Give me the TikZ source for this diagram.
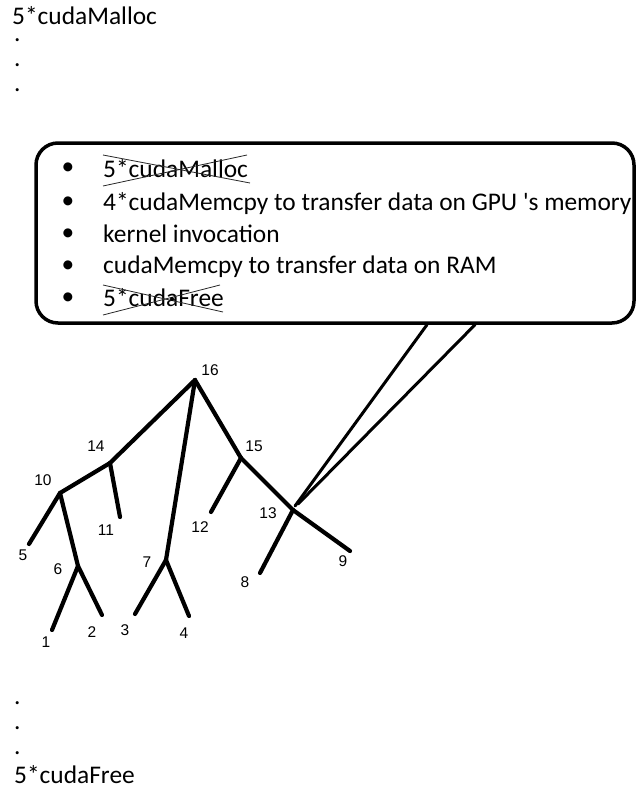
\documentclass[tikz,border=0pt]{standalone}
\usepackage{fontspec}
\setmainfont{Carlito}
\newfontfamily\labfont{Liberation Sans}
\tikzset{
  body/.style={font=\fontsize{25.4}{30}\selectfont, inner sep=0pt, anchor=base west, text depth=0pt},
  bul/.style={font=\fontsize{25.4}{30}\selectfont, inner sep=0pt, anchor=center},
  dotmark/.style={font=\fontsize{25.4}{30}\selectfont, inner sep=0pt, anchor=base west,
                  text height=3pt, text depth=0pt},
  numlab/.style={font=\labfont\fontsize{15.5}{15.5}\selectfont, inner sep=0pt, anchor=center},
  branch/.style={line width=4.2pt, line cap=round, line join=round},
  pointer/.style={line width=3pt, line cap=round},
  cross/.style={line width=0.8pt, black!85},
  callout/.style={draw, line width=3.5pt, rounded corners=22pt, inner sep=0pt,
                  minimum width=598pt, minimum height=180pt}
}
\begin{document}
\begin{tikzpicture}[x=1pt,y=-1pt]
\useasboundingbox (0,0) rectangle (636,789);

% opening allocation and elided lines
\node[body] (top) at (12,25) {5*cudaMalloc};
\node[dotmark] (d1) at (14,42) {.};
\node[dotmark] (d2) at (14,67) {.};
\node[dotmark] (d3) at (14,92) {.};

% callout box with the per-step list
\node[callout] (box) at (335,233) {};
\node[bul] (b1) at (68,169) {•};
\node[bul] (b2) at (68,203) {•};
\node[bul] (b3) at (68,235) {•};
\node[bul] (b4) at (68,267) {•};
\node[bul] (b5) at (68,299) {•};
\node[body] (t1) at (103,177) {5*cudaMalloc};
\node[body] (t2) at (103,210) {4*cudaMemcpy to transfer data on GPU \textquotesingle s memory};
\node[body] (t3) at (103,242) {kernel invocation};
\node[body] (t4) at (103,273) {cudaMemcpy to transfer data on RAM};
\node[body] (t5) at (103,306) {5*cudaFree};

% crossed-out entries
\coordinate (x1a) at (103,155); \coordinate (x1b) at (250,183);
\coordinate (x1c) at (103,186); \coordinate (x1d) at (247,155);
\draw[cross] (x1a) -- (x1b);
\draw[cross] (x1c) -- (x1d);
\coordinate (x5a) at (103,285); \coordinate (x5b) at (223,312);
\coordinate (x5c) at (103,315); \coordinate (x5d) at (220,285);
\draw[cross] (x5a) -- (x5b);
\draw[cross] (x5c) -- (x5d);
\fill (172,299) circle (2pt);

% tree junctions and leaves
\coordinate (v16) at (195,380);
\coordinate (v14) at (110,463);
\coordinate (v10) at (60,493);
\coordinate (v11) at (120,517);
\coordinate (v5)  at (29,544);
\coordinate (v6)  at (78,566);
\coordinate (v1)  at (52,630);
\coordinate (v2)  at (102,615);
\coordinate (v7)  at (166,560);
\coordinate (v3)  at (135,614);
\coordinate (v4)  at (189,616);
\coordinate (v15) at (241,458);
\coordinate (v12) at (211,512);
\coordinate (v13) at (293,510);
\coordinate (v9)  at (350,551);
\coordinate (v8)  at (260,573);

\draw[branch] (v16) -- (v14);
\draw[branch] (v16) -- (v7);
\draw[branch] (v16) -- (v15);
\draw[branch] (v14) -- (v10);
\draw[branch] (v14) -- (v11);
\draw[branch] (v10) -- (v5);
\draw[branch] (v10) -- (v6);
\draw[branch] (v6) -- (v1);
\draw[branch] (v6) -- (v2);
\draw[branch] (v7) -- (v3);
\draw[branch] (v7) -- (v4);
\draw[branch] (v15) -- (v12);
\draw[branch] (v15) -- (v13);
\draw[branch] (v13) -- (v9);
\draw[branch] (v13) -- (v8);

% pointer from node 13 up to the callout
\coordinate (p1) at ([xshift=92pt]box.south);
\coordinate (p2) at ([xshift=140pt]box.south);
\coordinate (q1) at (295,506);
\coordinate (q2) at (298,504);
\draw[pointer] (q1) -- (p1);
\draw[pointer] (q2) -- (p2);

% node numbers
\node[numlab] (l16) at (210,370) {16};
\node[numlab] (l14) at (96,446) {14};
\node[numlab] (l10) at (43,480) {10};
\node[numlab] (l11) at (106,530) {11};
\node[numlab] (l5)  at (23,555) {5};
\node[numlab] (l6)  at (58,569) {6};
\node[numlab] (l1)  at (46,642) {1};
\node[numlab] (l2)  at (92,632) {2};
\node[numlab] (l7)  at (147,562) {7};
\node[numlab] (l3)  at (125,630) {3};
\node[numlab] (l4)  at (184,633) {4};
\node[numlab] (l15) at (254,446) {15};
\node[numlab] (l12) at (200,527) {12};
\node[numlab] (l13) at (268,513) {13};
\node[numlab] (l9)  at (343,561) {9};
\node[numlab] (l8)  at (245,582) {8};

% elided lines and closing release
\node[dotmark] (d4) at (14,704) {.};
\node[dotmark] (d5) at (14,729) {.};
\node[dotmark] (d6) at (14,754) {.};
\node[body] (bottom) at (14,783) {5*cudaFree};
\end{tikzpicture}
\end{document}
